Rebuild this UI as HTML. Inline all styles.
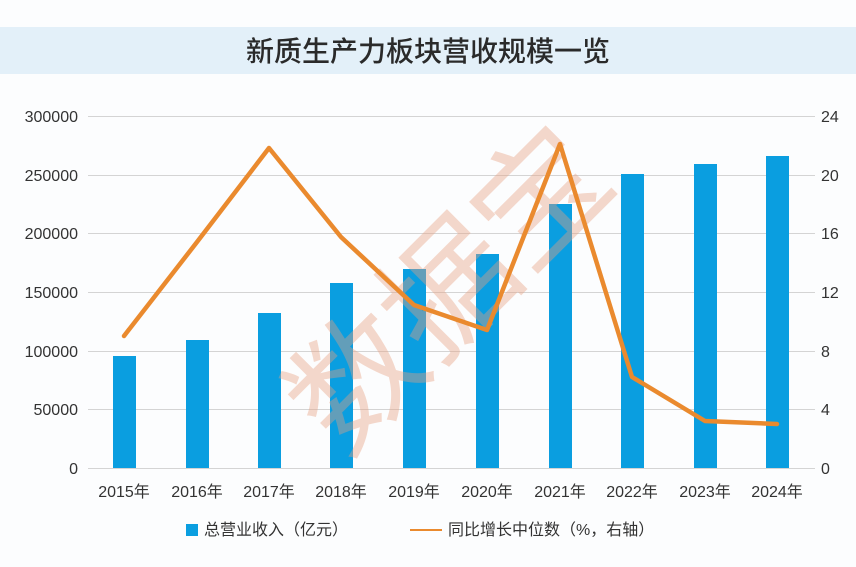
<!DOCTYPE html>
<html><head><meta charset="utf-8"><style>
body{margin:0;width:856px;height:562px;background:#fcfdfe;overflow:hidden;font-family:"Liberation Sans","Noto Sans CJK SC",sans-serif}
</style></head><body>
<svg width="856" height="562" xmlns="http://www.w3.org/2000/svg" font-family="Liberation Sans, Noto Sans CJK SC, sans-serif">
<rect x="0" y="0" width="856" height="562" fill="#fcfdfe"/>
<rect x="0" y="27" width="856" height="47" fill="#e3f0f9"/>
<text x="428" y="61" text-anchor="middle" font-size="28" font-weight="500" fill="#2a2a2a" font-family="Noto Sans CJK SC, sans-serif">新质生产力板块营收规模一览</text>
<g stroke="#d4d4d4" stroke-width="1">
<line x1="88" y1="116.5" x2="815" y2="116.5"/>
<line x1="88" y1="175.5" x2="815" y2="175.5"/>
<line x1="88" y1="233.5" x2="815" y2="233.5"/>
<line x1="88" y1="292.5" x2="815" y2="292.5"/>
<line x1="88" y1="351.5" x2="815" y2="351.5"/>
<line x1="88" y1="409.5" x2="815" y2="409.5"/>
<line x1="88" y1="468.5" x2="815" y2="468.5"/>
</g>
<g font-size="16" fill="#333" text-anchor="end">
<text x="78" y="122">300000</text><text x="78" y="181">250000</text><text x="78" y="239">200000</text>
<text x="78" y="298">150000</text><text x="78" y="357">100000</text><text x="78" y="415">50000</text><text x="78" y="474">0</text>
</g>
<g font-size="16" fill="#333" text-anchor="start">
<text x="821" y="122">24</text><text x="821" y="181">20</text><text x="821" y="239">16</text>
<text x="821" y="298">12</text><text x="821" y="357">8</text><text x="821" y="415">4</text><text x="821" y="474">0</text>
</g>
<g fill="#0a9ee0">
<rect x="113" y="356" width="23" height="112"/>
<rect x="186" y="340" width="23" height="128"/>
<rect x="258" y="313" width="23" height="155"/>
<rect x="330" y="283" width="23" height="185"/>
<rect x="403" y="269" width="23" height="199"/>
<rect x="476" y="254" width="23" height="214"/>
<rect x="549" y="204" width="23" height="264"/>
<rect x="621" y="174" width="23" height="294"/>
<rect x="694" y="164" width="23" height="304"/>
<rect x="766" y="156" width="23" height="312"/>
</g>
<text x="460" y="330" font-size="130" fill="#e8a080" opacity="0.4" transform="rotate(-45 460 300)" text-anchor="middle" font-family="Noto Sans CJK SC, sans-serif">数据宝</text>
<polyline fill="none" stroke="#ea8a2e" stroke-width="4.5" stroke-linejoin="round" stroke-linecap="round"
points="124,336 197,242 269,148 341,237 414,305 487,330 560,144 632,377 705,421 777,424"/>
<g font-size="16" fill="#333" text-anchor="middle">
<text x="124" y="497">2015年</text><text x="197" y="497">2016年</text><text x="269" y="497">2017年</text>
<text x="341" y="497">2018年</text><text x="414" y="497">2019年</text><text x="487" y="497">2020年</text>
<text x="560" y="497">2021年</text><text x="632" y="497">2022年</text><text x="705" y="497">2023年</text>
<text x="777" y="497">2024年</text>
</g>
<rect x="186" y="524" width="12" height="12" fill="#0a9ee0"/>
<text x="204" y="535" font-size="16" fill="#333">总营业收入（亿元）</text>
<line x1="410" y1="530" x2="442" y2="530" stroke="#ea8a2e" stroke-width="2"/>
<text x="448" y="535" font-size="16" fill="#333">同比增长中位数（%，右轴）</text>
</svg>
</body></html>
